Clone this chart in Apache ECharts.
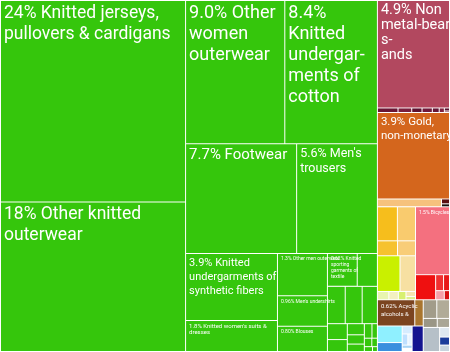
<!DOCTYPE html>
<html>
<head>
<meta charset="utf-8">
<script src="https://cdn.jsdelivr.net/npm/echarts@6/dist/echarts.min.js"></script>
<style>
  html, body { margin: 0; padding: 0; background: #fff; }
  #chart { width: 450px; height: 352px; }
</style>
</head>
<body>
<div id="chart"></div>
<script>
// share of exports, %
const textileNames = [
  'Knitted jerseys,\npullovers & cardigans',
  'Other knitted\nouterwear',
  'Other\nwomen\nouterwear',
  '\nKnitted\nundergar-\nments of\ncotton',
  'Footwear',
  "Men's\ntrousers",
  'Knitted\nundergarments of\nsynthetic fibers',
  "Knitted women's suits &\ndresses",
  'Other men outerwear',
  "Men's undershirts",
  'Blouses',
  'Knitted\nsporting\ngarments of\ntextile',
  'Women undergarments', 'Knitted shirts', 'Babies garments', 'Hats', 'Gloves', 'Ties',
  'Shawls', 'Handkerchiefs', 'Raincoats', 'Tracksuits', 'Swimwear', 'Socks', 'Bed linen',
  'Curtains', 'Yarn'
];
const textileValues = [23.6, 17.5, 9.0, 8.4, 7.7, 5.6, 3.9, 1.8, 1.34, 0.96, 0.8, 0.62,
  0.42, 0.42, 0.40, 0.36, 0.2, 0.15, 0.12, 0.1, 0.08, 0.07, 0.05, 0.04, 0.03, 0.025, 0.015];

const mineralNames = ['Non\nmetal-bearing\ns-\nands', 'Stone', 'Salt', 'Cement', 'Limestone',
  'Gravel', 'Clays', 'Other minerals', 'Crude'];
const mineralValues = [4.9, 0.06, 0.04, 0.03, 0.03, 0.02, 0.015, 0.01, 0.005];

const metalNames = ['Gold,\nnon-monetary', 'Precious stones', 'Scrap', 'Silver'];
const metalValues = [3.94, 0.32, 0.025, 0.015];

const foodNames = ['Rice', 'Fruits', 'Tobacco', 'Sugar'];
const foodValues = [0.43, 0.39, 0.19, 0.17];

const vegNames = ['Rubber', 'Vegetables', 'Cassava', 'Maize', 'Soybeans', 'Pepper', 'Fish'];
const vegValues = [0.51, 0.35, 0.06, 0.05, 0.04, 0.03, 0.02];

const transportNames = ['Bicycles', 'Cars', 'Vehicle parts', 'Motorcycles', 'Trailers', 'Boats'];
const transportValues = [1.46, 0.32, 0.08, 0.06, 0.05, 0.03];

const chemNames = ['Acyclic\nalcohols &\nderivatives', 'Wood'];
const chemValues = [0.62, 0.14];

const elecNames = ['Electronics', 'Cables', 'Parts', 'Switches', 'Fuses', 'Lamps', 'Batteries'];
const elecValues = [0.26, 0.14, 0.05, 0.04, 0.03, 0.02, 0.02];
const machineNames = ['Machinery'];
const machineValues = [0.18];

const baseMetalNames = ['Iron', 'Steel', 'Aluminium', 'Copper', 'Tools', 'Nails', 'Wire', 'Screws'];
const baseMetalValues = [0.16, 0.15, 0.08, 0.07, 0.25, 0.06, 0.05, 0.04];

// ---- styling ----
const colors = {
  textile: '#35c60c',
  mineral: ['#b2485f', '#6a1634', '#7a1f3d', '#5e1230', '#71193a', '#651535', '#7e2240', '#5a1030', '#6e1838'],
  metal: ['#d4661d', '#f6c27d', '#5a0f12', '#1a1010'],
  food: ['#f6be1c', '#f9cb6e', '#f6c22e', '#f8cd78'],
  veg: ['#c9f000', '#f7e0a2', '#e8f5b0', '#f3f0c0', '#d8f070', '#f5e6b0', '#e0f090'],
  transport: ['#f4707f', '#ef1010', '#f03030', '#e81818', '#f5a0a8', '#d81010'],
  chem: ['#7b4420', '#a9752e'],
  elec: ['#8ff0ff', '#3b8fde', '#d6ecff', '#bfe0ff', '#e8f4ff', '#a8d4f5', '#ffffff'],
  machine: ['#141490'],
  baseMetal: ['#a29c8a', '#b1ab98', '#9a9686', '#aaa696', '#b6c0c8', '#dfe8f0', '#1c3c9a', '#c8d4de']
};

// [fontSize, lineHeight] for labelled cells
const labelSizes = {
  'Knitted jerseys,\npullovers & cardigans': [17.5, 21],
  'Other knitted\nouterwear': [17.5, 21],
  'Other\nwomen\nouterwear': [18, 21],
  '\nKnitted\nundergar-\nments of\ncotton': [18, 21],
  'Footwear': [15, 18],
  "Men's\ntrousers": [12.5, 15],
  'Knitted\nundergarments of\nsynthetic fibers': [11, 14],
  "Knitted women's suits &\ndresses": [6, 6],
  'Other men outerwear': [5, 6],
  "Men's undershirts": [5, 6],
  'Blouses': [5, 6],
  'Knitted\nsporting\ngarments of\ntextile': [5, 6],
  'Non\nmetal-bearing\ns-\nands': [14.5, 15],
  'Gold,\nnon-monetary': [11.5, 14],
  'Bicycles': [5, 6],
  'Acyclic\nalcohols &\nderivatives': [6, 8]
};

function leaves(names, values, cols) {
  return names.map((n, i) => {
    const ls = labelSizes[n];
    return {
      name: n,
      value: values[i],
      itemStyle: { color: Array.isArray(cols) ? cols[i] : cols },
      label: ls ? { show: true, fontSize: ls[0], lineHeight: ls[1] } : { show: false }
    };
  });
}

function group(name, children) {
  return { name: name, children: children, itemStyle: { borderWidth: 0, gapWidth: 0 } };
}

const treeData = [
  group('Textiles', leaves(textileNames, textileValues, colors.textile)),
  group('Mineral products', leaves(mineralNames, mineralValues, colors.mineral)),
  group('Precious metals', leaves(metalNames, metalValues, colors.metal)),
  group('Vegetable products', [
    group('Foodstuffs', leaves(foodNames, foodValues, colors.food)),
    group('Agriculture', leaves(vegNames, vegValues, colors.veg))
  ]),
  group('Transportation', leaves(transportNames, transportValues, colors.transport)),
  group('Chemicals', leaves(chemNames, chemValues, colors.chem)),
  group('Machines', [
    group('Electronics', leaves(elecNames, elecValues, colors.elec)),
    ...leaves(machineNames, machineValues, colors.machine)
  ]),
  group('Metals', leaves(baseMetalNames, baseMetalValues, colors.baseMetal))
];

const chart = echarts.init(document.getElementById('chart'));
chart.setOption({
  animation: false,
  series: [{
    type: 'treemap',
    left: 0,
    top: 0,
    width: '100%',
    height: '100%',
    sort: false,
    visibleMin: 0,
    roam: false,
    nodeClick: false,
    breadcrumb: { show: false },
    itemStyle: { borderColor: '#fff', borderWidth: 0.5, gapWidth: 0 },
    upperLabel: { show: false },
    label: {
      show: true,
      position: 'insideTopLeft',
      color: '#fff',
      fontFamily: 'Roboto, sans-serif',
      padding: [2, 3],
      overflow: 'none',
      formatter: p => p.value.toPrecision(2) + '% ' + p.name
    },
    data: treeData
  }]
});
</script>
</body>
</html>
